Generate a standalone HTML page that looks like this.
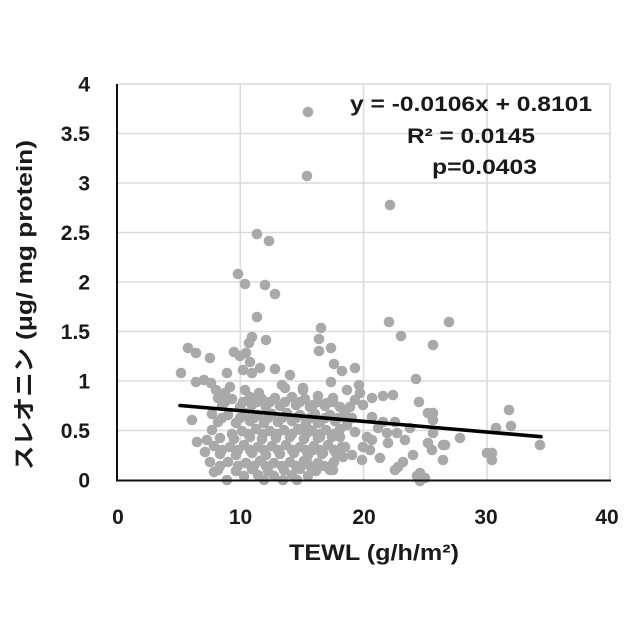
<!DOCTYPE html>
<html>
<head>
<meta charset="utf-8">
<style>
  html,body{margin:0;padding:0;background:#fff;}
  svg{display:block;}
  .tk{font-family:"Liberation Sans","Noto Sans CJK JP",sans-serif;font-weight:bold;font-size:21px;fill:#1a1a1a;}
  .eq{font-family:"Liberation Sans","Noto Sans CJK JP",sans-serif;font-weight:bold;font-size:21px;fill:#1a1a1a;}
  .tt{font-family:"Liberation Sans","Noto Sans CJK JP",sans-serif;font-weight:bold;font-size:22px;fill:#1a1a1a;}
  .pt circle{fill:#a9a9a9;}
</style>
</head>
<body>
<svg width="640" height="640" viewBox="0 0 640 640" xmlns="http://www.w3.org/2000/svg">
<rect x="0" y="0" width="640" height="640" fill="#fff"/>
<!-- gridlines -->
<g stroke="#dcdcdc" stroke-width="1.6">
  <line x1="117" y1="84" x2="610" y2="84"/>
  <line x1="117" y1="133.5" x2="610" y2="133.5"/>
  <line x1="117" y1="183" x2="610" y2="183"/>
  <line x1="117" y1="232.5" x2="610" y2="232.5"/>
  <line x1="117" y1="282" x2="610" y2="282"/>
  <line x1="117" y1="331.5" x2="610" y2="331.5"/>
  <line x1="117" y1="381" x2="610" y2="381"/>
  <line x1="117" y1="430.5" x2="610" y2="430.5"/>
  <line x1="240.3" y1="84" x2="240.3" y2="480"/>
  <line x1="363.6" y1="84" x2="363.6" y2="480"/>
  <line x1="487" y1="84" x2="487" y2="480"/>
  <line x1="610" y1="84" x2="610" y2="480"/>
</g>
<!-- points -->
<g class="pt">
<circle cx="308" cy="112" r="5.3"/><circle cx="307" cy="176" r="5.3"/><circle cx="390" cy="205" r="5.3"/>
<circle cx="257" cy="234" r="5.3"/><circle cx="269" cy="241" r="5.3"/><circle cx="238" cy="274" r="5.3"/>
<circle cx="245" cy="284" r="5.3"/><circle cx="265" cy="285" r="5.3"/><circle cx="275" cy="294" r="5.3"/>
<circle cx="257" cy="317" r="5.3"/><circle cx="321" cy="328" r="5.3"/><circle cx="389" cy="322" r="5.3"/>
<circle cx="449" cy="322" r="5.3"/><circle cx="252" cy="337" r="5.3"/><circle cx="249" cy="343" r="5.3"/>
<circle cx="266" cy="340" r="5.3"/><circle cx="319" cy="339" r="5.3"/><circle cx="319" cy="351" r="5.3"/>
<circle cx="331" cy="348" r="5.3"/><circle cx="401" cy="336" r="5.3"/><circle cx="433" cy="345" r="5.3"/>
<circle cx="188" cy="348" r="5.3"/><circle cx="196" cy="353" r="5.3"/><circle cx="210" cy="358" r="5.3"/>
<circle cx="234" cy="352" r="5.3"/><circle cx="240" cy="356" r="5.3"/><circle cx="246" cy="353" r="5.3"/>
<circle cx="250" cy="362" r="5.3"/><circle cx="243" cy="370" r="5.3"/><circle cx="252" cy="373" r="5.3"/>
<circle cx="260" cy="368" r="5.3"/><circle cx="275" cy="369" r="5.3"/><circle cx="290" cy="375" r="5.3"/>
<circle cx="227" cy="373" r="5.3"/><circle cx="181" cy="373" r="5.3"/><circle cx="334" cy="364" r="5.3"/>
<circle cx="342" cy="371" r="5.3"/><circle cx="355" cy="368" r="5.3"/><circle cx="331" cy="382" r="5.3"/>
<circle cx="196" cy="382" r="5.3"/><circle cx="204" cy="380" r="5.3"/><circle cx="211" cy="383" r="5.3"/>
<circle cx="230" cy="387" r="5.3"/><circle cx="245" cy="390" r="5.3"/><circle cx="285" cy="388" r="5.3"/>
<circle cx="303" cy="388" r="5.3"/><circle cx="416" cy="379" r="5.3"/><circle cx="359" cy="385" r="5.3"/>
<circle cx="347" cy="390" r="5.3"/><circle cx="360" cy="393" r="5.3"/><circle cx="372" cy="398" r="5.3"/>
<circle cx="383" cy="396" r="5.3"/><circle cx="393" cy="395" r="5.3"/><circle cx="419" cy="402" r="5.3"/>
<circle cx="303" cy="390" r="5.3"/><circle cx="216" cy="390" r="5.3"/><circle cx="225" cy="393" r="5.3"/>
<circle cx="259" cy="393" r="5.3"/><circle cx="282" cy="385" r="5.3"/><circle cx="318" cy="396" r="5.3"/>

<circle cx="350" cy="407" r="5.3"/><circle cx="333" cy="402" r="5.3"/><circle cx="327" cy="403" r="5.3"/>
<circle cx="313" cy="405" r="5.3"/><circle cx="363" cy="405" r="5.3"/><circle cx="372" cy="417" r="5.3"/>
<circle cx="383" cy="422" r="5.3"/><circle cx="395" cy="422" r="5.3"/><circle cx="347" cy="425" r="5.3"/>
<circle cx="340" cy="437" r="5.3"/><circle cx="367" cy="437" r="5.3"/><circle cx="372" cy="440" r="5.3"/>
<circle cx="363" cy="447" r="5.3"/><circle cx="362" cy="460" r="5.3"/><circle cx="370" cy="450" r="5.3"/>
<circle cx="387" cy="433" r="5.3"/><circle cx="388" cy="443" r="5.3"/><circle cx="397" cy="433" r="5.3"/>
<circle cx="428" cy="413" r="5.3"/><circle cx="433" cy="420" r="5.3"/><circle cx="433" cy="433" r="5.3"/>
<circle cx="428" cy="443" r="5.3"/><circle cx="432" cy="450" r="5.3"/><circle cx="443" cy="445" r="5.3"/>
<circle cx="413" cy="455" r="5.3"/><circle cx="403" cy="462" r="5.3"/><circle cx="398" cy="467" r="5.3"/>
<circle cx="395" cy="470" r="5.3"/><circle cx="420" cy="473" r="5.3"/><circle cx="425" cy="478" r="5.3"/>
<circle cx="345" cy="447" r="5.3"/><circle cx="343" cy="457" r="5.3"/><circle cx="332" cy="465" r="5.3"/>
<circle cx="333" cy="470" r="5.3"/><circle cx="320" cy="437" r="5.3"/><circle cx="313" cy="450" r="5.3"/>
<circle cx="307" cy="462" r="5.3"/><circle cx="323" cy="453" r="5.3"/><circle cx="300" cy="430" r="5.3"/>
<circle cx="310" cy="430" r="5.3"/><circle cx="318" cy="423" r="5.3"/><circle cx="509" cy="410" r="5.3"/>
<circle cx="511" cy="426" r="5.3"/><circle cx="496" cy="428" r="5.3"/><circle cx="460" cy="438" r="5.3"/>
<circle cx="445" cy="445" r="5.3"/><circle cx="433" cy="413" r="5.3"/><circle cx="443" cy="460" r="5.3"/>
<circle cx="487" cy="453" r="5.3"/><circle cx="492" cy="453" r="5.3"/><circle cx="492" cy="460" r="5.3"/>
<circle cx="540" cy="445" r="5.3"/>

<circle cx="192" cy="420" r="5.3"/><circle cx="197" cy="442" r="5.3"/><circle cx="207" cy="440" r="5.3"/>
<circle cx="205" cy="452" r="5.3"/><circle cx="210" cy="462" r="5.3"/><circle cx="214" cy="472" r="5.3"/>
<circle cx="227" cy="480" r="5.3"/><circle cx="264" cy="480" r="5.3"/><circle cx="283" cy="480" r="5.3"/>
<circle cx="297" cy="480" r="5.3"/><circle cx="417" cy="476" r="5.3"/><circle cx="420" cy="481" r="5.3"/>

<!-- dense cluster -->
<circle cx="218" cy="398" r="5.3"/><circle cx="232" cy="399" r="5.3"/><circle cx="250" cy="397" r="5.3"/><circle cx="262" cy="399" r="5.3"/><circle cx="275" cy="398" r="5.3"/><circle cx="292" cy="397" r="5.3"/><circle cx="305" cy="399" r="5.3"/><circle cx="333" cy="398" r="5.3"/>
<circle cx="222" cy="406" r="5.3"/><circle cx="240" cy="407" r="5.3"/><circle cx="252" cy="405" r="5.3"/><circle cx="266" cy="407" r="5.3"/><circle cx="280" cy="406" r="5.3"/><circle cx="296" cy="405" r="5.3"/><circle cx="310" cy="407" r="5.3"/><circle cx="325" cy="406" r="5.3"/><circle cx="340" cy="407" r="5.3"/>
<circle cx="212" cy="414" r="5.3"/><circle cx="228" cy="415" r="5.3"/><circle cx="245" cy="413" r="5.3"/><circle cx="258" cy="415" r="5.3"/><circle cx="272" cy="414" r="5.3"/><circle cx="287" cy="413" r="5.3"/><circle cx="300" cy="415" r="5.3"/><circle cx="315" cy="414" r="5.3"/><circle cx="330" cy="415" r="5.3"/><circle cx="345" cy="413" r="5.3"/>
<circle cx="218" cy="422" r="5.3"/><circle cx="236" cy="423" r="5.3"/><circle cx="250" cy="421" r="5.3"/><circle cx="264" cy="423" r="5.3"/><circle cx="278" cy="422" r="5.3"/><circle cx="292" cy="421" r="5.3"/><circle cx="306" cy="423" r="5.3"/><circle cx="320" cy="422" r="5.3"/><circle cx="335" cy="421" r="5.3"/>
<circle cx="212" cy="430" r="5.3"/><circle cx="242" cy="431" r="5.3"/><circle cx="256" cy="429" r="5.3"/><circle cx="270" cy="431" r="5.3"/><circle cx="284" cy="430" r="5.3"/><circle cx="298" cy="429" r="5.3"/><circle cx="312" cy="431" r="5.3"/><circle cx="326" cy="430" r="5.3"/><circle cx="340" cy="429" r="5.3"/>
<circle cx="220" cy="438" r="5.3"/><circle cx="234" cy="439" r="5.3"/><circle cx="250" cy="437" r="5.3"/><circle cx="262" cy="439" r="5.3"/><circle cx="276" cy="438" r="5.3"/><circle cx="290" cy="437" r="5.3"/><circle cx="304" cy="439" r="5.3"/><circle cx="318" cy="438" r="5.3"/><circle cx="332" cy="437" r="5.3"/>
<circle cx="214" cy="446" r="5.3"/><circle cx="230" cy="447" r="5.3"/><circle cx="244" cy="445" r="5.3"/><circle cx="258" cy="447" r="5.3"/><circle cx="272" cy="446" r="5.3"/><circle cx="286" cy="445" r="5.3"/><circle cx="300" cy="447" r="5.3"/><circle cx="314" cy="446" r="5.3"/><circle cx="328" cy="445" r="5.3"/><circle cx="342" cy="447" r="5.3"/>
<circle cx="220" cy="454" r="5.3"/><circle cx="236" cy="455" r="5.3"/><circle cx="252" cy="453" r="5.3"/><circle cx="266" cy="455" r="5.3"/><circle cx="280" cy="454" r="5.3"/><circle cx="294" cy="453" r="5.3"/><circle cx="308" cy="455" r="5.3"/><circle cx="322" cy="454" r="5.3"/><circle cx="336" cy="453" r="5.3"/>
<circle cx="228" cy="462" r="5.3"/><circle cx="246" cy="463" r="5.3"/><circle cx="260" cy="461" r="5.3"/><circle cx="274" cy="463" r="5.3"/><circle cx="290" cy="462" r="5.3"/><circle cx="304" cy="461" r="5.3"/><circle cx="318" cy="463" r="5.3"/><circle cx="334" cy="462" r="5.3"/>
<circle cx="218" cy="470" r="5.3"/><circle cx="236" cy="471" r="5.3"/><circle cx="252" cy="469" r="5.3"/><circle cx="268" cy="471" r="5.3"/><circle cx="284" cy="470" r="5.3"/><circle cx="300" cy="469" r="5.3"/><circle cx="316" cy="471" r="5.3"/><circle cx="330" cy="470" r="5.3"/>
<!-- second staggered layer -->
<circle cx="225" cy="402" r="5.3"/><circle cx="243" cy="402" r="5.3"/><circle cx="257" cy="402" r="5.3"/><circle cx="270" cy="402" r="5.3"/><circle cx="285" cy="402" r="5.3"/><circle cx="300" cy="402" r="5.3"/><circle cx="318" cy="402" r="5.3"/>
<circle cx="222" cy="418" r="5.3"/><circle cx="240" cy="418" r="5.3"/><circle cx="254" cy="418" r="5.3"/><circle cx="268" cy="418" r="5.3"/><circle cx="282" cy="418" r="5.3"/><circle cx="296" cy="418" r="5.3"/><circle cx="310" cy="418" r="5.3"/><circle cx="325" cy="418" r="5.3"/><circle cx="338" cy="418" r="5.3"/>
<circle cx="232" cy="434" r="5.3"/><circle cx="248" cy="434" r="5.3"/><circle cx="263" cy="434" r="5.3"/><circle cx="277" cy="434" r="5.3"/><circle cx="292" cy="434" r="5.3"/><circle cx="306" cy="434" r="5.3"/><circle cx="320" cy="434" r="5.3"/><circle cx="334" cy="434" r="5.3"/>
<circle cx="222" cy="450" r="5.3"/><circle cx="238" cy="450" r="5.3"/><circle cx="250" cy="450" r="5.3"/><circle cx="264" cy="450" r="5.3"/><circle cx="278" cy="450" r="5.3"/><circle cx="292" cy="450" r="5.3"/><circle cx="306" cy="450" r="5.3"/><circle cx="320" cy="450" r="5.3"/><circle cx="334" cy="450" r="5.3"/>
<circle cx="220" cy="466" r="5.3"/><circle cx="238" cy="466" r="5.3"/><circle cx="254" cy="466" r="5.3"/><circle cx="266" cy="466" r="5.3"/><circle cx="282" cy="466" r="5.3"/><circle cx="296" cy="466" r="5.3"/><circle cx="310" cy="466" r="5.3"/><circle cx="324" cy="466" r="5.3"/>
<circle cx="244" cy="476" r="5.3"/><circle cx="258" cy="475" r="5.3"/><circle cx="274" cy="476" r="5.3"/><circle cx="292" cy="475" r="5.3"/><circle cx="308" cy="476" r="5.3"/>
<circle cx="352" cy="418" r="5.3"/><circle cx="355" cy="432" r="5.3"/><circle cx="352" cy="455" r="5.3"/><circle cx="378" cy="428" r="5.3"/><circle cx="380" cy="458" r="5.3"/><circle cx="405" cy="440" r="5.3"/><circle cx="410" cy="428" r="5.3"/><circle cx="355" cy="400" r="5.3"/>
</g>
<!-- trend line -->
<line x1="180" y1="405.5" x2="541" y2="436.7" stroke="#000" stroke-width="3.6" stroke-linecap="round"/>
<!-- axes -->
<line x1="117" y1="84" x2="117" y2="481" stroke="#111" stroke-width="2"/>
<line x1="116" y1="480.5" x2="611" y2="480.5" stroke="#111" stroke-width="2"/>
<!-- y tick labels -->
<g class="tk" text-anchor="end">
  <text x="90" y="91.5">4</text>
  <text x="90" y="141">3.5</text>
  <text x="90" y="190.5">3</text>
  <text x="90" y="240">2.5</text>
  <text x="90" y="289.5">2</text>
  <text x="90" y="339">1.5</text>
  <text x="90" y="388.5">1</text>
  <text x="90" y="438">0.5</text>
  <text x="90" y="487.5">0</text>
</g>
<!-- x tick labels -->
<g class="tk" text-anchor="middle">
  <text x="118" y="524">0</text>
  <text x="240.5" y="524">10</text>
  <text x="364" y="524">20</text>
  <text x="486" y="524">30</text>
  <text x="607" y="524">40</text>
</g>
<!-- equation -->
<text class="eq" x="350" y="111" textLength="242" lengthAdjust="spacingAndGlyphs">y = -0.0106x + 0.8101</text>
<text class="eq" x="407" y="143" textLength="128" lengthAdjust="spacingAndGlyphs">R² = 0.0145</text>
<text class="eq" x="432" y="174" textLength="105" lengthAdjust="spacingAndGlyphs">p=0.0403</text>
<!-- axis titles -->
<text class="tt" x="289" y="560" textLength="170" lengthAdjust="spacingAndGlyphs">TEWL (g/h/m²)</text>
<text class="tt" transform="translate(32,470) rotate(-90)" x="0" y="0" font-size="23" textLength="122" lengthAdjust="spacingAndGlyphs">スレオニン</text>
<text class="tt" transform="translate(32,340) rotate(-90)" x="0" y="0" font-size="23" textLength="200" lengthAdjust="spacingAndGlyphs">(μg/ mg protein)</text>
</svg>
</body>
</html>
